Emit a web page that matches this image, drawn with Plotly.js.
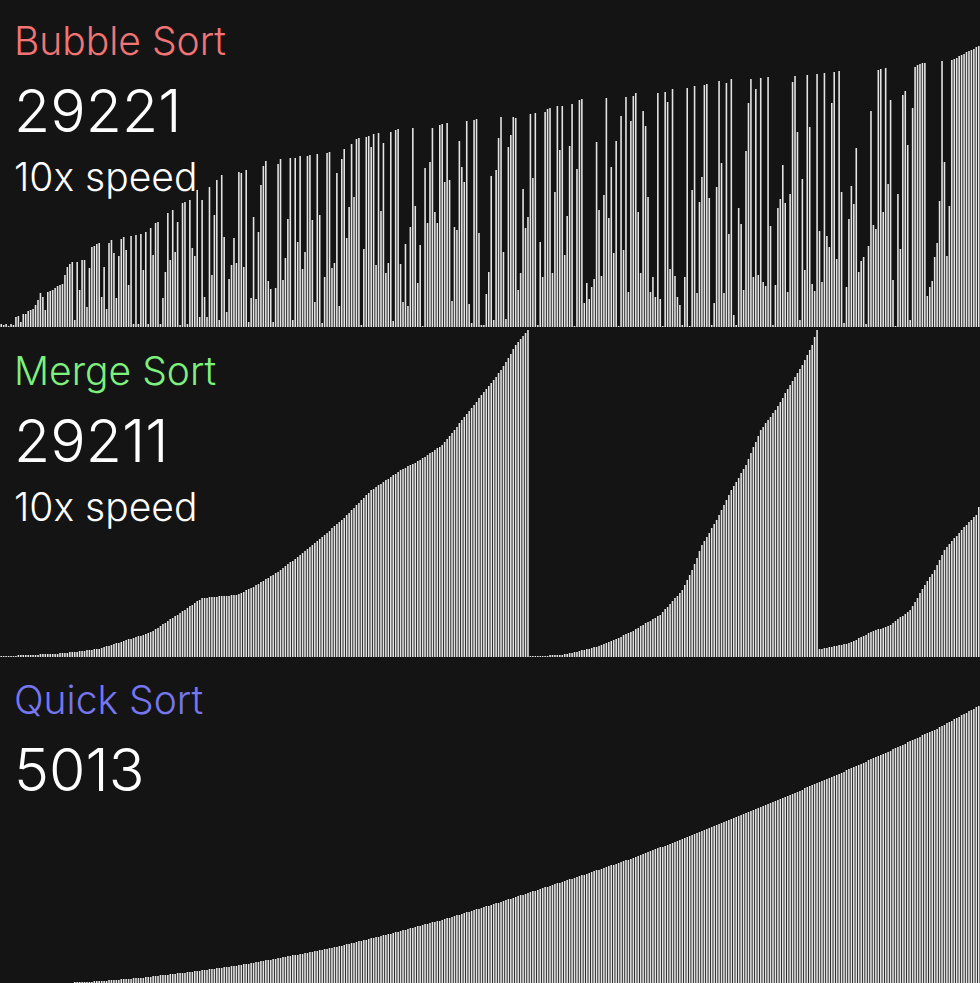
<!DOCTYPE html>
<html>
<head>
<meta charset="utf-8">
<script src="https://cdn.plot.ly/plotly-3.0.1.min.js"></script>
<style>
html,body{margin:0;padding:0;background:#141414;overflow:hidden;}
#chart{width:980px;height:983px;}
</style>
</head>
<body>
<div id="chart"></div>
<script>
// ---- Data (bar heights, in panel pixels) ----
const bubbleValues = [
3,2,3,1,3,2,10,11,5,13,13,16,17,18,22,27,34,30,17,35,
36,37,39,41,42,43,52,60,63,65,7,65,37,67,67,20,59,80,81,83,
84,30,60,18,84,87,74,29,71,88,90,77,42,91,3,92,3,93,57,95,
3,99,72,104,105,3,29,55,114,67,117,75,105,2,124,125,3,127,79,71,
137,10,127,30,10,140,52,112,147,7,152,90,15,48,62,89,64,155,154,60,
157,5,29,110,28,95,142,161,166,46,38,5,39,163,168,47,69,108,
169,7,169,85,171,58,75,171,172,107,25,173,112,4,50,174,175,
59,64,154,21,168,178,89,120,183,130,188,189,2,78,190,191,180,
193,62,194,116,184,54,64,195,6,197,198,63,25,83,21,100,199,
121,44,82,1,159,104,165,199,115,104,202,203,145,204,147,
26,100,97,186,160,145,206,23,4,207,208,94,2,2,33,55,
151,7,157,189,210,75,8,180,192,210,209,37,54,138,99,110,
213,149,214,2,85,50,215,218,219,54,135,221,177,221,72,111,
181,223,1,158,227,228,24,44,28,40,48,185,117,51,132,229,
109,160,74,186,1,211,77,230,35,206,231,234,115,54,216,201,
130,35,50,30,234,28,1,235,225,58,238,51,30,22,2,50,
239,1,137,241,34,125,150,242,243,129,2,24,140,246,164,34,244,93,248,12,
2,119,103,37,176,224,248,50,238,52,249,45,41,250,101,2,
42,119,128,162,124,35,133,245,251,195,7,148,
57,252,200,43,36,253,96,45,254,91,80,224,255,68,256,135,4,
40,108,141,123,179,55,66,70,3,81,216,102,98,257,258,115,259,
143,227,47,1,133,78,232,236,182,7,219,260,262,263,264,264,31,
40,46,70,84,126,266,165,71,121,267,
268,269,271,272,273,275,276,277,278,280,281
];

const mergeValues = [
1,1,1,1,1,1,1,2,2,2,2,2,2,2,2,2,3,3,3,3,3,
3,3,3,4,4,4,4,5,5,5,5,6,6,6,7,7,7,8,8,8,9,
10,11,11,12,13,14,14,15,16,17,18,18,19,20,21,21,22,23,24,25,
26,28,29,31,33,34,36,38,39,41,42,44,46,47,49,51,52,
54,56,57,59,
59,59,60,60,60,60,61,61,61,61,61,62,62,62,
63,64,65,67,68,69,
70,72,73,75,76,78,79,81,82,84,85,87,
89,91,93,95,96,98,100,102,
104,106,108,110,112,114,116,118,120,122,124,126,129,131,133,135,137,
139,142,144,147,149,152,154,157,159,162,164,167,
168,170,172,173,175,177,178,180,182,183,185,187,
188,189,191,192,193,194,196,197,
199,200,202,204,205,207,209,210,212,
215,218,221,224,227,230,234,237,
240,243,246,249,252,255,259,262,
265,268,271,274,277,280,284,287,
291,295,299,303,308,312,
315,318,321,324,327,
1,1,1,1,1,1,1,1,2,2,2,2,2,2,
3,3,4,4,5,5,6,7,7,8,8,9,10,10,11,12,
13,14,15,16,17,18,19,20,22,23,24,25,
26,28,29,31,32,34,35,36,38,39,41,42,
45,48,50,53,56,59,61,64,67,
72,77,82,87,
93,99,106,112,
116,120,124,129,133,137,
142,147,152,157,162,167,
171,175,179,184,188,192,
198,204,210,215,221,227,
230,234,237,240,244,247,
251,255,259,264,268,272,
276,280,284,288,292,
297,302,307,312,
320,327,
8,8,9,9,10,10,11,11,12,12,13,13,14,15,
16,17,19,20,21,22,24,25,
26,27,28,28,29,30,31,32,
34,36,38,40,41,43,45,47,
51,55,59,64,68,72,
76,80,83,87,
92,97,102,107,
110,113,116,119,121,124,127,
130,132,135,137,140,142,
150
];

const quickValues = [
0,0,0,0,0,0,0,0,0,0,0,0,0,0,0,0,0,0,0,0,
0,0,0,0,0,0,0,0,0,0,1,1,1,1,1,1,1,1,2,2,
2,2,2,2,3,3,3,3,3,4,4,4,4,4,5,5,5,5,5,6,
6,6,7,7,7,8,8,8,8,9,9,9,10,10,10,10,11,11,11,12,
12,12,13,13,13,14,14,14,15,15,15,16,16,16,17,17,17,18,18,19,
19,19,20,20,21,21,22,22,23,23,23,24,24,25,25,26,26,27,27,28,
28,28,29,29,30,30,31,31,32,32,33,33,34,34,35,35,36,36,37,37,
38,39,39,40,40,41,42,42,43,43,44,45,45,46,46,47,48,48,49,49,
50,51,51,52,53,53,54,55,55,56,57,57,58,59,59,60,61,61,62,62,
63,64,65,65,66,67,68,68,69,70,71,71,72,73,74,74,75,76,77,77,
78,79,80,80,81,82,83,84,84,85,86,87,88,88,89,90,91,92,92,93,
94,95,96,96,97,98,99,100,100,101,102,103,104,104,105,106,107,108,108,109,
110,111,112,113,113,114,115,116,117,118,118,119,120,121,122,123,123,124,125,126,
127,128,129,130,131,132,133,134,135,136,136,137,138,139,140,141,142,143,144,145,
146,147,148,149,150,151,152,153,154,155,156,157,158,159,160,161,162,163,164,165,
166,167,168,169,170,171,172,173,174,175,176,177,178,179,180,181,182,183,184,185,
186,187,188,189,190,191,192,193,195,196,197,198,199,200,201,202,203,204,205,206,
207,208,209,210,211,213,214,215,216,217,218,219,220,221,223,224,225,226,227,228,
229,230,231,232,234,235,236,237,238,239,241,242,243,244,245,246,248,249,250,251,
252,253,254,256,257,258,260,261,262,264,265,266,268,269,270,272,273,274,276,277
];

const panelTitles = ["Bubble Sort", "Merge Sort", "Quick Sort"];
const panelCounts = ["29221", "29211", "5013"];
const panelSpeeds = ["10x speed", "10x speed", ""];

// ---- Layout / styling ----
const W = 980, H = 983;
const titleColors = ["#f27474", "#7ef07e", "#7676ee"];
const baselines = [327, 657, 983];   // pixel y of each panel baseline
const tops = [0, 327, 657];
const FONT = "Inter, Lato, 'Open Sans', sans-serif";
const BAR = "#e4e4e4";
const BG = "#141414";

const series = [bubbleValues, mergeValues, quickValues];
const traces = series.map((vals, k) => ({
  type: "bar",
  x: vals.map((_, i) => i),
  y: vals,
  marker: {color: BAR, line: {width: 0}},
  xaxis: k === 0 ? "x" : "x" + (k + 1),
  yaxis: k === 0 ? "y" : "y" + (k + 1),
  hoverinfo: "skip"
}));

const layout = {
  width: W, height: H,
  margin: {l: 0, r: 0, t: 0, b: 0, pad: 0},
  paper_bgcolor: BG, plot_bgcolor: BG,
  showlegend: false,
  bargap: 0.35,
  annotations: []
};

for (let k = 0; k < 3; k++) {
  const sfx = k === 0 ? "" : String(k + 1);
  const n = series[k].length;
  layout["xaxis" + sfx] = {
    domain: [0, 1], range: [-0.5, n - 0.5], visible: false, fixedrange: true,
    anchor: "y" + sfx
  };
  const lo = 1 - baselines[k] / H, hi = 1 - tops[k] / H;
  layout["yaxis" + sfx] = {
    domain: [lo, hi], range: [0, baselines[k] - tops[k]], visible: false,
    fixedrange: true, anchor: "x" + sfx
  };
  const off = k === 0 ? 0 : (k === 1 ? 330 : 659);
  const items = [
    {text: panelTitles[k], size: 39, color: titleColors[k], yc: 40 + off},
    {text: panelCounts[k], size: 59, color: "#ffffff", yc: 110 + off},
    {text: panelSpeeds[k], size: 39, color: "#ffffff", yc: 176.5 + off}
  ];
  items.forEach(it => {
    if (!it.text) return;
    layout.annotations.push({
      xref: "paper", yref: "paper", x: 12 / W, y: 1 - it.yc / H,
      xanchor: "left", yanchor: "middle", showarrow: false,
      text: it.text,
      font: {family: FONT, size: it.size, color: it.color, weight: 300}
    });
  });
}

Plotly.newPlot("chart", traces, layout, {staticPlot: true, displayModeBar: false});
</script>
</body>
</html>
